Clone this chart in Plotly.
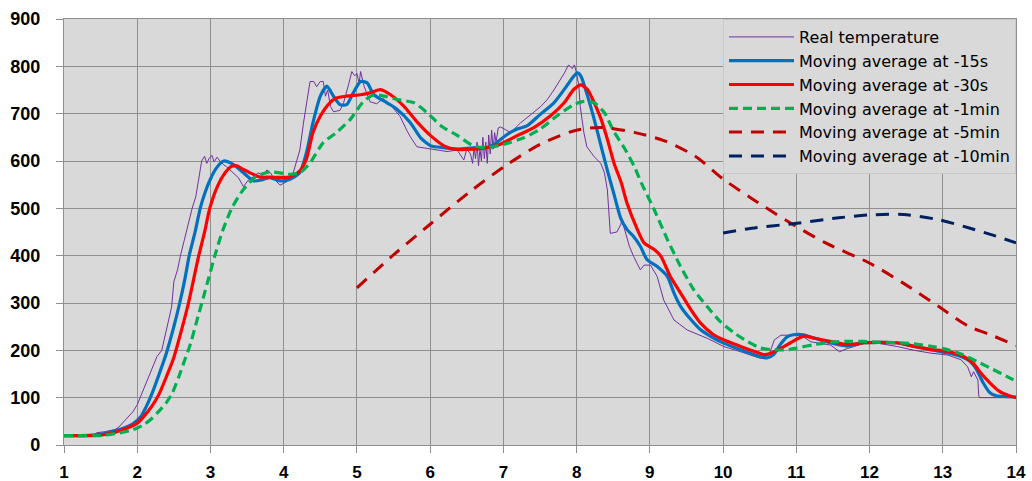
import plotly.graph_objects as go

# ---------------- data ----------------
real_x = [1.0, 1.4, 1.45, 1.55, 1.7, 1.75, 1.85, 1.94, 2.0, 2.04, 2.08, 2.15, 2.27, 2.335, 2.4, 2.47,
          2.5, 2.55, 2.59, 2.65, 2.7, 2.75, 2.8, 2.86, 2.88, 2.92, 2.95, 2.98, 3.02, 3.05, 3.09, 3.13,
          3.18, 3.22, 3.28, 3.31, 3.38, 3.45, 3.48, 3.52, 3.59, 3.65, 3.72, 3.77, 3.82, 3.88, 3.95,
          4.04, 4.13, 4.22, 4.27, 4.32, 4.36, 4.41, 4.45, 4.5, 4.54, 4.57, 4.6, 4.64, 4.68, 4.77,
          4.82, 4.89, 4.93, 4.97, 5.0, 5.03, 5.05, 5.1, 5.18, 5.27, 5.36, 5.46, 5.59, 5.68, 5.73,
          5.82, 5.96, 6.09, 6.23, 6.37, 6.42, 6.46, 6.5, 6.55, 6.58, 6.6, 6.62, 6.64, 6.66, 6.68,
          6.7, 6.72, 6.74, 6.76, 6.78, 6.8, 6.82, 6.84, 6.86, 6.88, 6.9, 6.93, 6.96, 7.05, 7.1,
          7.23, 7.35, 7.51, 7.6, 7.69, 7.83, 7.89, 7.94, 7.97, 8.0, 8.03, 8.05, 8.1, 8.14, 8.24,
          8.33, 8.38, 8.42, 8.46, 8.55, 8.6, 8.62, 8.66, 8.72, 8.78, 8.87, 8.92, 9.01, 9.1, 9.19,
          9.33, 9.51, 9.79, 10.01, 10.24, 10.51, 10.61, 10.7, 10.79, 10.93, 11.06, 11.2, 11.47,
          11.59, 11.7, 12.0, 12.38, 12.61, 12.84, 13.07, 13.25, 13.34, 13.39, 13.42, 13.48, 13.49,
          13.5, 13.7, 14.0]
real_y = [20, 21, 26, 28, 33, 38, 55, 70, 85, 100, 116, 140, 187, 200, 243, 292,
          345, 370, 400, 440, 470, 500, 525, 580, 600, 610, 595, 605, 612, 598, 608, 600,
          592, 588, 580, 574, 565, 546, 553, 560, 567, 575, 570, 581, 575, 560, 549,
          556, 575, 623, 680, 729, 768, 768, 757, 768, 768, 737, 750, 715, 704, 707,
          724, 764, 789, 780, 785, 764, 789, 757, 725, 721, 732, 718, 694, 665, 651,
          630, 627, 623, 620, 623, 610, 602, 625, 615, 595, 630, 605, 640, 590, 625,
          600, 650, 605, 640, 595, 655, 615, 665, 625, 660, 640, 670, 672, 665, 660,
          680, 695, 715, 730, 750, 785, 803, 795, 803, 785, 760, 715, 659, 630, 609,
          595, 575, 539, 447, 450, 465, 475, 455, 420, 398, 370, 380, 380, 356, 306,
          264, 243, 225, 208, 197, 183, 183, 222, 232, 232, 232, 218, 211,
          197, 204, 218, 208, 200, 194, 190, 180, 165, 144, 155, 137, 106,
          100, 100, 100]

ma15_x = [1.0, 1.4, 1.6, 1.8, 1.95, 2.05, 2.12, 2.2, 2.3, 2.4, 2.5, 2.58, 2.65, 2.71, 2.79, 2.86,
          2.93, 3.0, 3.08, 3.18, 3.31, 3.45, 3.59, 3.7, 3.81, 3.95, 4.08, 4.22, 4.31, 4.4, 4.5,
          4.59, 4.68, 4.77, 4.86, 4.95, 5.05, 5.14, 5.23, 5.41, 5.55, 5.73, 5.87, 6.01, 6.19,
          6.38, 6.59, 6.77, 6.91, 7.05, 7.18, 7.32, 7.5, 7.69, 7.83, 7.94, 8.01, 8.06, 8.15,
          8.24, 8.33, 8.42, 8.51, 8.6, 8.69, 8.78, 8.87, 8.96, 9.1, 9.24, 9.33, 9.42, 9.56,
          9.69, 9.87, 10.06, 10.24, 10.42, 10.6, 10.69, 10.78, 10.87, 10.96, 11.1, 11.24, 11.46,
          11.69, 11.92, 12.14, 12.37, 12.59, 12.82, 13.05, 13.23, 13.37, 13.46, 13.55, 13.64,
          13.73, 13.95, 14.0]
ma15_y = [20, 21, 26, 35, 46, 60, 80, 108, 150, 195, 250, 300, 350, 400, 450, 500,
          535, 562, 585, 600, 593, 575, 558, 560, 565, 558, 561, 575, 617, 681, 737,
          758, 737, 719, 719, 744, 768, 765, 740, 723, 709, 681, 649, 632, 628,
          625, 628, 628, 639, 656, 667, 674, 698, 723, 751, 775, 786, 779, 737,
          688, 634, 580, 530, 480, 455, 440, 420, 392, 377, 356, 321, 293, 265,
          244, 226, 212, 201, 191, 184, 191, 212, 228, 233, 233, 226, 216,
          209, 216, 217, 216, 209, 202, 195, 188, 177, 160, 132, 111,
          104, 102, 101]

ma30_x = [1.0, 1.5, 1.7, 1.9, 2.0, 2.1, 2.2, 2.3, 2.4, 2.5, 2.6, 2.7, 2.77, 2.84, 2.92, 2.99,
          3.1, 3.2, 3.28, 3.36, 3.45, 3.54, 3.68, 3.81, 4.08, 4.22, 4.31, 4.4, 4.5, 4.63, 4.72,
          4.86, 5.05, 5.18, 5.32, 5.46, 5.64, 5.83, 6.01, 6.19, 6.33, 6.59, 6.77, 6.95, 7.18,
          7.41, 7.64, 7.83, 7.96, 8.06, 8.15, 8.24, 8.33, 8.42, 8.51, 8.61, 8.69, 8.83, 8.92,
          9.06, 9.15, 9.28, 9.42, 9.56, 9.69, 9.87, 10.06, 10.24, 10.42, 10.56, 10.65, 10.83,
          10.92, 11.1, 11.24, 11.46, 11.69, 11.92, 12.14, 12.37, 12.59, 12.82, 13.05, 13.27,
          13.41, 13.5, 13.64, 13.77, 13.91, 14.0]
ma30_y = [20, 21, 27, 38, 46, 62, 82, 108, 145, 185, 240, 300, 350, 400, 450, 500,
          548, 575, 588, 590, 582, 575, 566, 566, 566, 579, 604, 660, 695, 723, 733,
          737, 740, 744, 751, 740, 716, 681, 653, 632, 625, 625, 628, 635, 653,
          670, 695, 723, 751, 761, 751, 723, 690, 646, 596, 554, 510, 455, 427,
          413, 399, 356, 321, 286, 258, 233, 219, 208, 198, 191, 194, 208,
          216, 230, 226, 219, 212, 216, 217, 216, 209, 202, 198, 188,
          174, 156, 132, 114, 104, 100]

ma1m_x = [1.0, 1.5, 1.7, 1.9, 2.0, 2.1, 2.2, 2.3, 2.4, 2.48, 2.57, 2.65, 2.72, 2.81, 2.9, 2.98,
          3.06, 3.16, 3.29, 3.45, 3.63, 3.82, 3.95, 4.08, 4.22, 4.36, 4.54, 4.72, 4.91, 5.09,
          5.23, 5.37, 5.55, 5.78, 5.96, 6.15, 6.38, 6.59, 6.77, 7.0, 7.28, 7.5, 7.73, 7.96,
          8.1, 8.24, 8.38, 8.51, 8.65, 8.79, 8.88, 9.06, 9.24, 9.42, 9.6, 9.78, 9.96, 10.15,
          10.33, 10.51, 10.69, 10.87, 11.01, 11.24, 11.46, 11.69, 11.92, 12.14, 12.37, 12.59,
          12.82, 13.05, 13.27, 13.5, 13.68, 13.86, 14.0]
ma1m_y = [20, 20, 24, 30, 36, 44, 56, 72, 90, 110, 145, 180, 210, 260, 310, 355,
          400, 450, 500, 540, 568, 577, 575, 572, 575, 596, 639, 660, 688, 726,
          740, 737, 730, 723, 702, 674, 653, 632, 628, 635, 649, 667, 695, 719,
          726, 723, 702, 662, 628, 588, 555, 497, 434, 377, 328, 293, 261, 237,
          219, 205, 201, 201, 205, 212, 217, 219, 219, 217, 216, 214,
          209, 202, 191, 174, 160, 146, 135]

ma5m_x = [5.0, 5.48, 6.02, 6.55, 7.02, 7.5, 7.97, 8.32, 8.8, 9.21, 9.62, 10.0, 10.39, 10.92,
          11.4, 11.99, 12.46, 12.94, 13.35, 13.65, 14.0]
ma5m_y = [332, 399, 469, 536, 589, 635, 664, 671, 660, 642, 610, 562, 521, 469,
          427, 385, 342, 293, 251, 233, 210]

ma10m_x = [10.0, 10.39, 10.98, 11.58, 11.99, 12.46, 12.94, 13.35, 13.65, 14.0]
ma10m_y = [448, 458, 468, 480, 486, 487, 476, 459, 445, 427]

x_ticks = list(range(1, 15))
y_ticks = list(range(0, 1000, 100))

# ---------------- figure ----------------
fig = go.Figure()

fig.add_trace(go.Scatter(x=real_x, y=real_y, mode="lines", name="Real temperature",
                         line=dict(color="#7030A0", width=1)))
fig.add_trace(go.Scatter(x=ma15_x, y=ma15_y, mode="lines", name="Moving average at -15s",
                         line=dict(color="#0070C0", width=3.2, shape="spline", smoothing=0.6)))
fig.add_trace(go.Scatter(x=ma30_x, y=ma30_y, mode="lines", name="Moving average at -30s",
                         line=dict(color="#FF0000", width=3.2, shape="spline", smoothing=0.6)))
fig.add_trace(go.Scatter(x=ma1m_x, y=ma1m_y, mode="lines", name="Moving average at -1min",
                         line=dict(color="#00B050", width=3.2, dash="9px,5px",
                                   shape="spline", smoothing=0.6)))
fig.add_trace(go.Scatter(x=ma5m_x, y=ma5m_y, mode="lines", name="Moving average at -5min",
                         line=dict(color="#C00000", width=3, dash="13px,9px",
                                   shape="spline", smoothing=0.8)))
fig.add_trace(go.Scatter(x=ma10m_x, y=ma10m_y, mode="lines", name="Moving average at -10min",
                         line=dict(color="#002060", width=3, dash="13px,9px",
                                   shape="spline", smoothing=0.8)))

grid_col = "#8f8f8f"
ytick_font = dict(size=18, family="Liberation Sans, Arial, sans-serif", weight="bold", color="black")
xtick_font = dict(size=17, family="Liberation Sans, Arial, sans-serif", weight="bold", color="black")
fig.update_layout(
    width=1032, height=481,
    margin=dict(l=64, r=16, t=19, b=36, autoexpand=False),
    paper_bgcolor="white",
    plot_bgcolor="#d9d9d9",
    font=dict(family="Liberation Sans, Arial, sans-serif", color="black"),
    showlegend=True,
    legend=dict(
        x=1, y=1, xanchor="right", yanchor="top",
        bgcolor="#d9d9d9", bordercolor="#c8c8c8", borderwidth=1,
        font=dict(size=16, color="black", family="DejaVu Sans, sans-serif"),
        tracegroupgap=0, itemwidth=65,
    ),
    xaxis=dict(
        range=[1, 14], tickmode="array", tickvals=x_ticks, ticktext=[str(v) for v in x_ticks],
        showgrid=True, gridcolor=grid_col, gridwidth=1.3,
        showline=True, linecolor=grid_col, linewidth=1.3, mirror=True,
        ticks="outside", ticklen=7, tickcolor=grid_col, tickwidth=1.3,
        tickfont=xtick_font, automargin=False,
        zeroline=False, ticklabelstandoff=4,
    ),
    yaxis=dict(
        range=[0, 900], tickmode="array", tickvals=y_ticks, ticktext=[str(v) for v in y_ticks],
        showgrid=True, gridcolor=grid_col, gridwidth=1.3,
        showline=True, linecolor=grid_col, linewidth=1.3, mirror=True,
        ticks="outside", ticklen=7, tickcolor=grid_col, tickwidth=1.3,
        tickfont=ytick_font, automargin=False,
        zeroline=False, ticklabelstandoff=12,
    ),
)

fig.write_html("out.html",
               config={"displayModeBar": False},
               post_script="document.body.style.margin='0px';document.body.style.overflow='hidden';")
